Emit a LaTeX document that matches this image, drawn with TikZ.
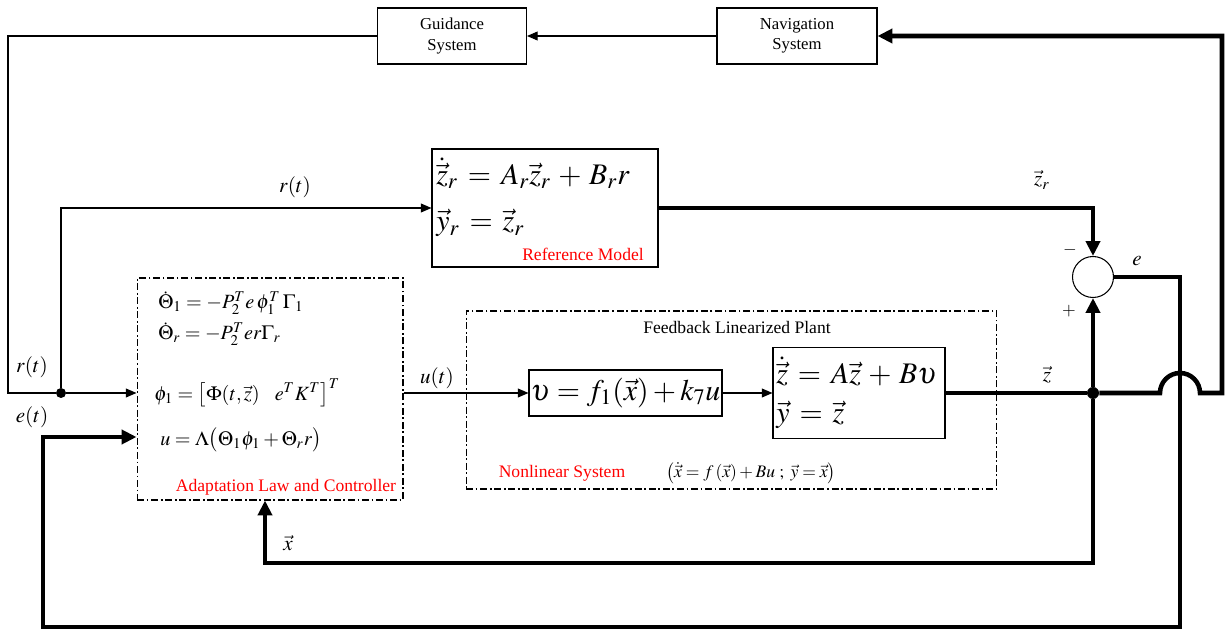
\documentclass[tikz,border=0pt]{standalone}
\usepackage{mathptmx}
\usepackage{fontspec}
\setmainfont{Liberation Serif}
\usetikzlibrary{arrows.meta}
\definecolor{lblred}{RGB}{255,0,0}
\begin{document}
\begin{tikzpicture}[x=0.02cm,y=-0.02cm,
  thinl/.style={line width=0.6pt},
  thickl/.style={line width=2.6pt},
  box/.style={draw,line width=0.6pt,inner sep=0pt},
  dashbox/.style={draw,line width=0.6pt,dash pattern=on 4pt off 1.5pt on 1pt off 1.5pt,inner sep=0pt},
  arr/.style={-{Triangle[length=6pt,width=5pt]}},
  tarr/.style={-{Triangle[length=8.5pt,width=8pt]}},
  small/.style={font=\fontsize{9.5}{11.5}\selectfont},
  redlbl/.style={text=lblred,font=\fontsize{10}{12}\selectfont,inner sep=0pt},
  lbl/.style={inner sep=0pt,font=\fontsize{12}{14}\selectfont},
  txt/.style={inner sep=0pt,anchor=west},
  bigeq/.style={txt,font=\fontsize{17}{20}\selectfont},
  adeq/.style={txt,font=\fontsize{11.5}{13}\selectfont},
]
\useasboundingbox (0,0) rectangle (1225,631);

% boxes
\node[box,minimum width=2.98cm,minimum height=1.12cm,align=center,small] (gd) at (452,36) {Guidance\\System};
\node[box,minimum width=3.2cm,minimum height=1.12cm,align=center,small] (nav) at (797,36) {Navigation\\System};
\node[box,minimum width=4.52cm,minimum height=2.36cm] (ref) at (545,208) {};
\node[bigeq] (refeq1) at (436,173) {$\dot{\vec z}_r \,=\, A_r\vec z_r \,+\, B_r r$};
\node[bigeq] (refeq2) at (436,223) {$\vec y_r \,=\, \vec z_r$};
\node[redlbl] (reflbl) at (583,254) {Reference Model};

\node[dashbox,minimum width=5.32cm,minimum height=4.44cm] (adapt) at (270,389) {};
\node[adeq] (ad1) at (158,303) {$\dot\Theta_1 = -P_2^T e\,\phi_1^T\,\Gamma_1$};
\node[adeq] (ad2) at (158,334) {$\dot\Theta_r = -P_2^T e r\Gamma_r$};
\node[adeq] (ad3) at (154,393) {$\phi_1 = \bigl[\Phi(t,\vec z)\ \ \ e^TK^T\bigr]^T$};
\node[adeq] (ad4) at (160,440) {$u = \Lambda\bigl(\Theta_1\phi_1 + \Theta_r r\bigr)$};
\node[redlbl] (adlbl) at (286,487) {Adaptation Law and Controller};

\node[dashbox,minimum width=10.62cm,minimum height=3.56cm] (nl) at (731.5,400) {};
\node[inner sep=0pt,font=\fontsize{10}{12}\selectfont] (fbl) at (737,327) {Feedback Linearized Plant};
\node[box,minimum width=3.86cm,minimum height=0.92cm,font=\fontsize{17}{20}\selectfont] (v) at (625.5,393) {$\upsilon = f_1(\vec x) + k_7 u$};
\node[box,minimum width=3.44cm,minimum height=1.82cm] (state) at (859,393) {};
\node[bigeq] (st1) at (776,371) {$\dot{\vec z} \,=\, A\vec z \,+\, B\upsilon$};
\node[bigeq] (st2) at (776,415) {$\vec y \,=\, \vec z$};
\node[redlbl] (nllbl) at (562,473) {Nonlinear System};
\node[inner sep=0pt,font=\fontsize{10}{12}\selectfont] (nleq) at (751,473) {$\bigl(\dot{\vec x} = f\,(\vec x) + Bu\ ;\ \vec y = \vec x\bigr)$};

% summing junction and dots
\node[draw,circle,line width=0.6pt,minimum size=0.82cm,inner sep=0pt] (sum) at (1093,277) {};
\node[circle,fill,inner sep=0pt,minimum size=0.24cm] (J) at (1093,393) {};
\node[circle,fill,inner sep=0pt,minimum size=0.2cm] (rdot) at (61,393) {};
\coordinate (ul) at (8,36);
\coordinate (ll) at (8,393);
\coordinate (xb) at (265,563);
\coordinate (jb) at (1093,563);
\coordinate (er) at (1180,277);
\coordinate (eb) at (1180,627);
\coordinate (el) at (43,627);
\coordinate (et) at (43,437);
\coordinate (rt) at (1222,36);
\coordinate (rb) at (1222,393);

% labels
\node[lbl] (lrt) at (295,187) {$r(t)$};
\node[lbl] (lrt2) at (32,367) {$r(t)$};
\node[lbl] (let) at (32,417) {$e(t)$};
\node[lbl] (lut) at (437,378) {$u(t)$};
\node[lbl] (lzr) at (1042,180) {$\vec z_r$};
\node[lbl] (lz) at (1047,375) {$\vec z$};
\node[lbl] (le) at (1137,261) {$e$};
\node[lbl] (lx) at (288,543) {$\vec x$};
\node[inner sep=0pt,font=\fontsize{10}{12}\selectfont] (lm) at (1070,250) {$-$};
\node[inner sep=0pt,font=\fontsize{10}{12}\selectfont] (lp) at (1069,311) {$+$};

% thin connectors
\draw[thinl,arr] (nav.west) -- (gd.east);
\draw[thinl] (gd.west) -- (ul) -- (ll) -- (rdot);
\draw[thinl,arr] (rdot) -- (adapt.west |- rdot);
\draw[thinl,arr] (rdot) -- (rdot |- ref.west) -- (ref.west);
\draw[thinl,arr] (adapt.east |- v.west) -- (v.west);
\draw[thinl,arr] (v.east) -- (state.west);

% thick connectors
\draw[thickl,tarr] (ref.east) -- (sum.north |- ref.east) -- (sum.north);
\draw[thickl] (state.east) -- (J);
\draw[thickl,tarr] (J) -- (sum.south);
\draw[thickl,tarr] (J) -- (jb) -- (xb) -- (xb |- adapt.south);
\draw[thickl,tarr] (J) -- (1160,393) arc[start angle=180,end angle=0,radius=0.4cm] -- (rb) -- (rt) -- (nav.east);
\draw[thickl,tarr] (sum.east) -- (er) -- (eb) -- (el) -- (et) -- (adapt.west |- et);
\end{tikzpicture}
\end{document}
